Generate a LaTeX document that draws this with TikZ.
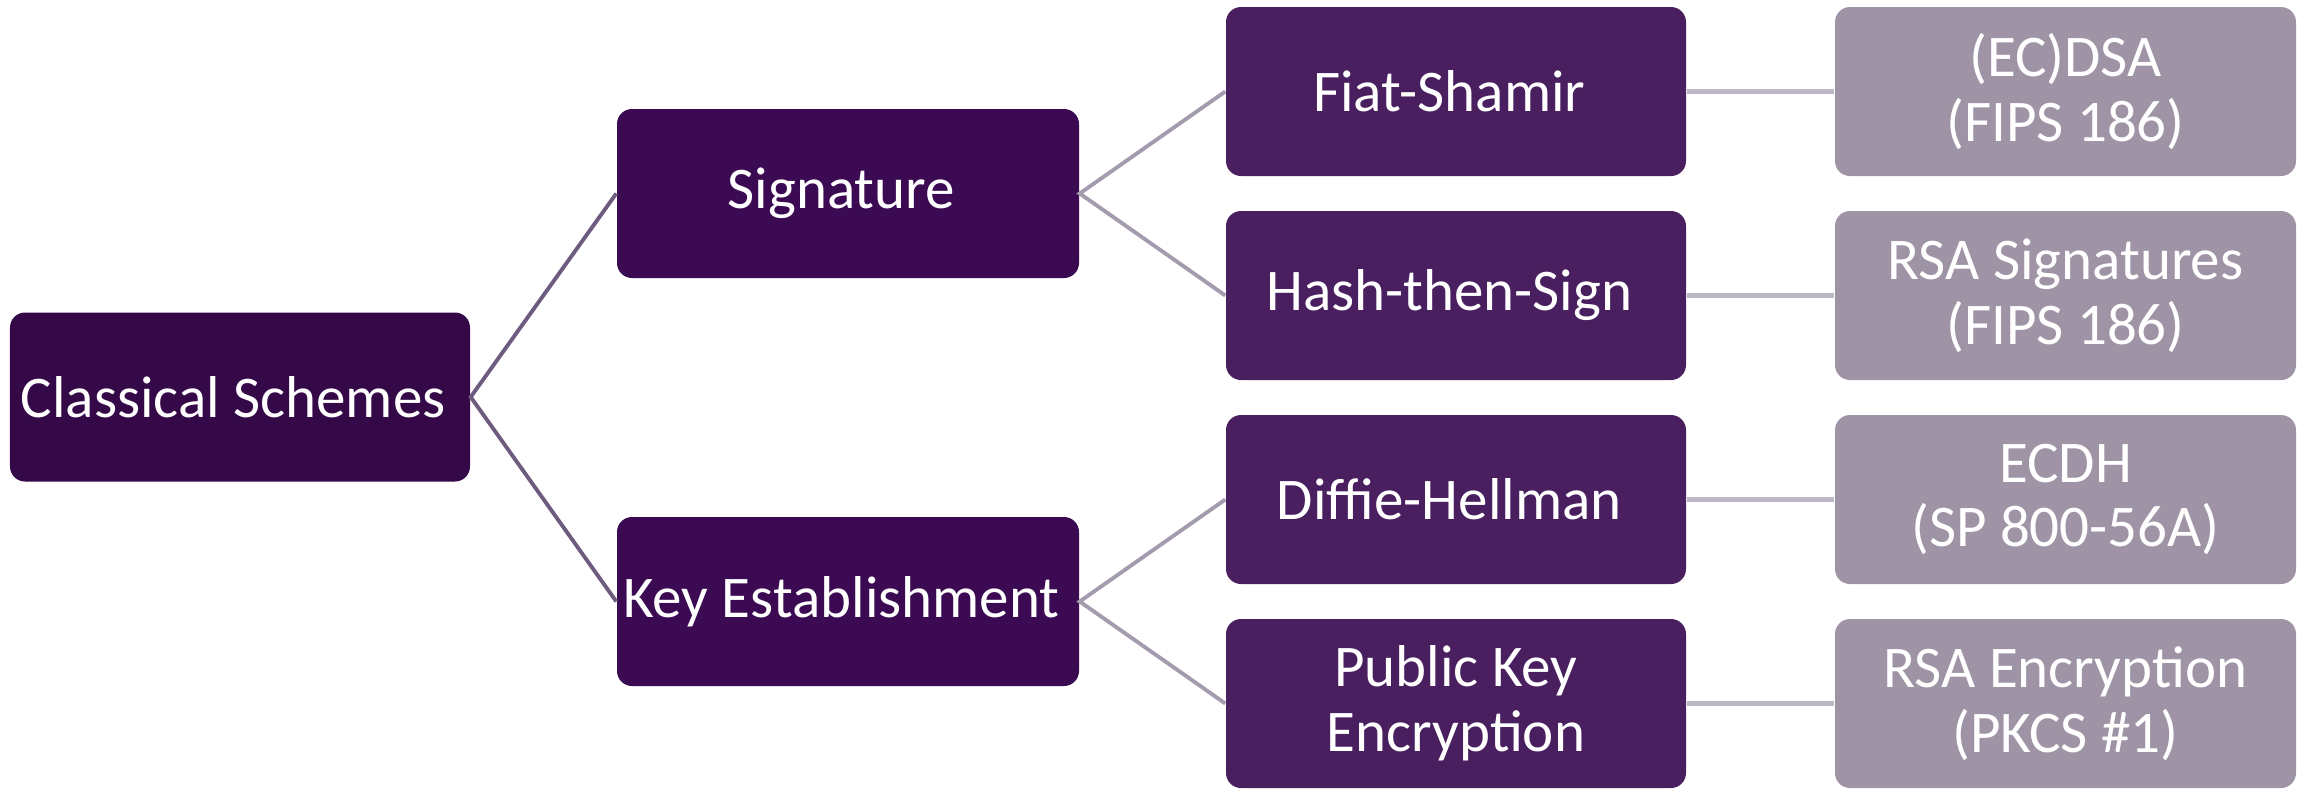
\documentclass[tikz,border=0pt]{standalone}
\usepackage{fontspec}
\setmainfont{Carlito}
\usepackage{tikz}
\definecolor{rootpurple}{RGB}{53,8,72}
\definecolor{midpurple}{RGB}{60,10,82}
\definecolor{leafpurple}{RGB}{73,31,96}
\definecolor{stdgrey}{RGB}{158,148,166}
\definecolor{darkline}{RGB}{110,92,128}
\definecolor{midline}{RGB}{165,155,174}
\definecolor{lightline}{RGB}{190,183,196}
\tikzstyle{schemebox} = [rectangle, rounded corners=0.15cm, minimum width=4.6cm, minimum
height=1.69cm, text centered, align=center, anchor=center, text=white, inner sep=0pt,
font=\fontsize{16.8}{18.4}\selectfont]
\tikzstyle{rootnode} = [schemebox, fill=rootpurple]
\tikzstyle{classnode} = [schemebox, fill=midpurple, minimum width=4.62cm]
\tikzstyle{methodnode} = [schemebox, fill=leafpurple]
\tikzstyle{stdnode} = [schemebox, fill=stdgrey, minimum width=4.61cm]
\tikzstyle{rootline} = [line width=1.1pt, darkline]
\tikzstyle{classline} = [line width=1.1pt, midline]
\tikzstyle{stdline} = [line width=1.4pt, lightline]

\begin{document}
\begin{tikzpicture}[node distance=2.04cm]
      \useasboundingbox (0,0) rectangle (23.05,-7.93);
      \node (root) [rootnode] at (2.40,-3.97) { Classical Schemes };
      \node (sig) [classnode] at (8.48,-1.935) { Signature };
      \node (ke) [classnode, below of=sig, node distance=4.08cm] { Key Establishment };

      \node (fs) [methodnode] at (14.56,-0.915) { Fiat-Shamir };
      \node (hs) [methodnode, below of=fs] { Hash-then-Sign };
      \node (dh) [methodnode, below of=hs] { Diffie-Hellman };
      \node (pke) [methodnode, below of=dh] { Public Key\\Encryption };

      \node (dsa) [stdnode, right of=fs, node distance=6.095cm] { (EC)DSA\\(FIPS 186) };
      \node (rsasig) [stdnode, right of=hs, node distance=6.095cm] { RSA Signatures\\(FIPS 186) };
      \node (ecdh) [stdnode, right of=dh, node distance=6.095cm] { ECDH\\(SP 800-56A) };
      \node (rsaenc) [stdnode, right of=pke, node distance=6.095cm] { RSA Encryption\\(PKCS \#1) };

      \draw [rootline] (sig.west) -- (root.east) -- (ke.west);
      \draw [classline] (fs.west) -- (sig.east) -- (hs.west);
      \draw [classline] (dh.west) -- (ke.east) -- (pke.west);

      \draw [stdline] (fs) -- (dsa);
      \draw [stdline] (hs) -- (rsasig);
      \draw [stdline] (dh) -- (ecdh);
      \draw [stdline] (pke) -- (rsaenc);
    \end{tikzpicture}
\end{document}
